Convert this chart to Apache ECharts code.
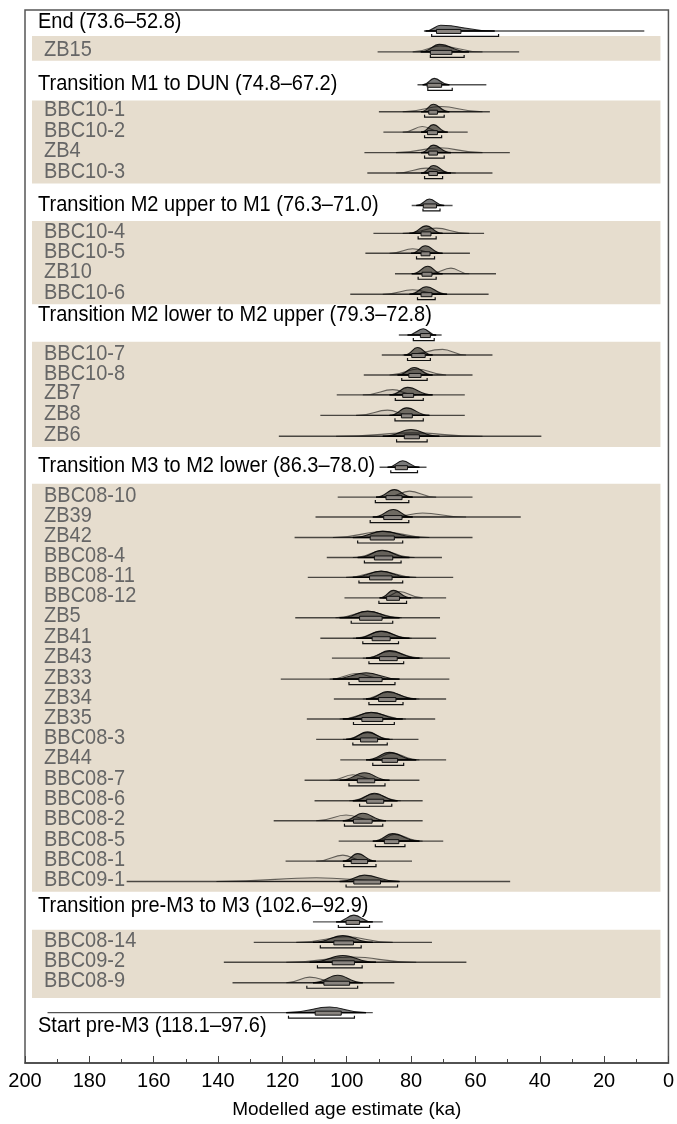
<!DOCTYPE html>
<html><head><meta charset="utf-8">
<script src="https://cdn.jsdelivr.net/npm/echarts@6/dist/echarts.min.js"></script>
<style>html,body{margin:0;padding:0;background:#fff}#c{width:677px;height:1124px}</style>
</head><body><div id="c"></div>
<script>
// ================= DATA (ka) =================
const labels = ['End (73.6–52.8)','ZB15','Transition M1 to DUN (74.8–67.2)','BBC10-1','BBC10-2','ZB4','BBC10-3',
 'Transition M2 upper to M1 (76.3–71.0)','BBC10-4','BBC10-5','ZB10','BBC10-6',
 'Transition M2 lower to M2 upper (79.3–72.8)','BBC10-7','BBC10-8','ZB7','ZB8','ZB6',
 'Transition M3 to M2 lower (86.3–78.0)','BBC08-10','ZB39','ZB42','BBC08-4','BBC08-11','BBC08-12','ZB5','ZB41','ZB43',
 'ZB33','ZB34','ZB35','BBC08-3','ZB44','BBC08-7','BBC08-6','BBC08-2','BBC08-5','BBC08-1','BBC09-1',
 'Transition pre-M3 to M3 (102.6–92.9)','BBC08-14','BBC09-2','BBC08-9','Start pre-M3 (118.1–97.6)'];
const kinds = ['h','s','h','s','s','s','s','h','s','s','s','s','h','s','s','s','s','s','h',
 's','s','s','s','s','s','s','s','s','s','s','s','s','s','s','s','s','s','s','s','h','s','s','s','h'];
const lineOld = [76.0,90.4,78.0,90.0,88.6,94.5,93.6,79.8,91.7,94.2,85.0,98.9,83.8,89.1,94.7,103.1,108.2,121.1,89.8,102.8,109.7,116.2,106.2,112.1,100.7,116.0,108.2,104.6,120.5,104.0,112.4,109.5,102.0,113.1,110.0,122.7,102.5,119.0,168.4,110.5,128.9,138.2,135.5,193.0];
const lineYoung = [7.5,46.4,56.6,55.5,62.4,49.3,54.7,67.1,57.3,61.7,53.6,55.9,70.5,54.7,60.9,63.3,63.3,39.5,75.2,60.9,45.9,60.9,70.4,66.9,69.1,71.0,72.2,67.9,68.1,69.1,72.5,77.7,69.1,77.4,76.4,76.4,70.0,79.7,49.2,88.8,73.5,62.8,85.2,91.9];
// posterior (modelled) distribution: old foot, peak, young foot, relative height
const postOld = [75.5,77.0,76.4,76.9,76.9,76.9,76.9,78.4,80.5,80.0,79.8,80.5,81.1,82.1,84.2,86.7,86.7,88.8,87.3,90.9,91.9,98.1,96.6,98.1,89.8,102.2,97.1,94.0,104.3,94.0,101.2,100.2,94.0,102.2,98.1,101.2,91.9,101.2,102.2,103.3,110.5,111.5,110.5,118.8];
const postPeak = [70.8,71.2,72.8,73.1,73.1,73.1,73.1,74.3,75.3,75.6,74.8,75.3,76.2,78.0,79.0,81.1,81.4,80.0,82.6,85.2,85.5,88.8,89.0,89.3,85.5,93.5,89.3,86.7,94.0,87.3,92.4,93.5,86.7,94.5,91.4,95.0,85.7,96.6,94.5,97.8,101.2,101.2,102.8,105.3];
const postYoung = [54.0,62.0,68.1,68.1,68.6,67.6,67.6,69.7,70.2,70.2,70.2,68.8,72.2,73.3,73.3,73.3,74.3,71.2,77.4,79.5,79.5,77.4,80.5,80.5,80.0,83.6,80.5,77.4,83.6,78.4,82.6,86.7,78.4,86.7,84.2,87.8,77.4,90.9,83.6,91.9,91.9,90.9,95.0,94.0];
const postHeight = [0.75,1,0.85,1,1,1,1,0.85,1,1,1,1,0.85,1,1,1,1,0.9,0.85,1,1,0.85,0.95,0.85,1,0.9,0.95,1,0.85,1,0.9,1,1,1,1,1,1,1,0.85,0.9,0.9,0.9,1,0.75];
// prior (unmodelled) distribution for samples
const priorOld = [null,79.5,null,82.6,82.6,84.7,84.7,null,82.6,86.7,74.3,88.8,null,82.6,86.7,95.0,97.1,103.3,null,87.8,86.7,104.3,98.1,100.2,88.8,103.5,98.1,95.0,105.3,95.0,102.2,101.2,93.0,105.3,99.2,109.5,90.9,109.5,140.5,null,115.7,118.8,118.8,null];
const priorPeak = [null,71.0,null,70.7,76.5,71.2,75.3,null,72.2,79.5,67.6,79.5,null,70.2,78.0,85.7,87.3,79.5,null,80.5,76.4,88.8,89.0,89.3,83.6,93.5,89.3,86.7,97.1,87.3,92.4,93.5,86.0,98.1,91.4,100.2,85.2,101.2,109.5,null,100.2,98.1,111.5,null];
const priorYoung = [null,57.8,null,57.8,70.2,57.8,66.1,null,61.9,72.2,61.9,70.2,null,62.9,69.1,78.4,79.5,57.8,null,72.2,62.9,74.3,78.9,78.4,76.4,82.9,79.8,76.4,87.8,77.4,81.6,85.7,77.4,89.8,83.2,90.9,76.4,94.0,83.6,null,85.7,78.4,102.2,null];
const priorHeight = [null,0.8,null,0.7,0.75,0.65,0.65,null,0.7,0.6,0.75,0.6,null,0.75,0.8,0.7,0.7,0.45,null,0.8,0.55,0.8,0.9,0.8,0.85,0.85,0.9,0.9,0.75,0.9,0.85,0.9,0.9,0.75,0.9,0.75,0.9,0.8,0.5,null,0.75,0.7,0.75,null];
// 68.2% range (box) and 95.4% range (bracket)
const range68Old = [72.1,74.0,75.0,74.5,74.9,74.5,74.5,76.2,76.9,76.9,76.6,76.9,77.1,79.8,80.7,82.6,83.0,82.1,84.9,87.8,88.5,92.7,91.4,92.9,87.6,96.0,92.1,89.8,96.2,90.1,95.3,95.7,89.0,96.7,93.8,97.9,88.3,98.6,97.8,100.2,104.0,104.5,107.1,109.8];
const range68Young = [64.5,67.3,70.5,71.8,71.8,71.8,71.8,72.1,73.8,74.1,73.5,73.5,74.0,75.6,76.9,79.2,79.6,77.4,81.1,82.8,82.8,85.2,85.7,85.9,83.6,89.0,86.5,84.3,89.0,84.7,88.8,90.4,84.2,91.3,88.5,92.1,83.8,93.5,89.5,96.0,97.9,97.6,99.1,101.7];
const range95Old = [73.6,74.0,74.8,75.8,75.8,75.8,75.8,76.3,77.8,78.3,77.8,78.0,79.3,81.1,82.9,84.9,85.0,84.5,86.3,91.1,92.7,96.6,94.5,96.2,90.0,98.6,95.0,93.1,99.3,93.1,97.9,98.1,91.9,99.3,96.0,100.7,91.1,100.9,100.2,102.6,108.2,109.1,112.4,118.1];
const range95Young = [52.8,63.5,67.2,69.7,70.5,69.7,70.2,71.0,72.2,72.7,72.2,72.5,72.8,74.0,75.0,76.2,76.2,75.0,78.0,80.7,80.7,82.6,83.1,82.6,81.4,85.7,83.9,82.3,85.0,82.5,85.2,87.4,82.3,88.1,86.0,88.8,81.9,90.9,84.2,92.9,95.5,95.2,96.6,97.6];
const xTickValues = [200,180,160,140,120,100,80,60,40,20,0];

// ================= LAYOUT (px from plot top) =================
const ROW_Y = [21,42,75,102,122.5,143,163.5,196,224,244,264.5,285,326,346,366,386,406.5,427.5,458.5,488.5,508.5,529,549,569,589.5,609.5,630,650,671,691,711,731.5,752,772.5,793,813,833.5,853.5,874,914.5,935,955,975.5,1005.5];
const LABEL_DY = {0:-9,2:-1,7:-1,12:-20,18:-1.5,39:-15.5,43:13.5};
const BANDS = [[26,51],[90.7,174],[211.7,295],[332.7,438.3],[475,884.3],[922.3,990.7]];
const HUMP_PX = 7.5;
const FONT = '"Liberation Sans", Arial, Helvetica, sans-serif';

function hump(xa, xp, xb, y, h) {
  const a = xp - xa, b = xb - xp;
  return 'M' + xa + ',' + y +
    ' C' + (xa + 0.55 * a) + ',' + y + ' ' + (xp - 0.4 * a) + ',' + (y - h) + ' ' + xp + ',' + (y - h) +
    ' C' + (xp + 0.4 * b) + ',' + (y - h) + ' ' + (xb - 0.55 * b) + ',' + y + ' ' + xb + ',' + y + ' Z';
}

function renderBand(params, api) {
  const cs = params.coordSys;
  const y1 = api.coord([0, api.value(1)])[1];
  const y2 = api.coord([0, api.value(2)])[1];
  return {type: 'rect', shape: {x: cs.x + 7, y: y1, width: cs.width - 15, height: y2 - y1},
    style: {fill: '#e6ddce'}};
}

function renderRow(params, api) {
  const i = api.value(2);
  const cs = params.coordSys;
  const y = api.coord([0, ROW_Y[i]])[1];
  const X = v => api.coord([v, 0])[0];
  const ch = [];
  const head = kinds[i] === 'h';
  ch.push({type: 'text', x: cs.x + (head ? 13 : 19), y: y + (head ? LABEL_DY[i] : -1.5), scaleY: 1.1,
    style: {text: labels[i], fill: head ? '#000' : '#666', fontSize: 20, fontFamily: FONT,
      align: 'left', verticalAlign: 'middle'}});
  ch.push({type: 'line', shape: {x1: X(lineOld[i]), y1: y, x2: X(lineYoung[i]), y2: y},
    style: {stroke: 'rgba(0,0,0,0.68)', lineWidth: 1.4}});
  if (priorPeak[i] != null) {
    ch.push({type: 'path', shape: {pathData: hump(X(priorOld[i]), X(priorPeak[i]), X(priorYoung[i]), y, HUMP_PX * priorHeight[i])},
      style: {fill: 'rgba(0,0,0,0.08)', stroke: 'rgba(0,0,0,0.55)', lineWidth: 1.1}});
  }
  ch.push({type: 'line', shape: {x1: X(postOld[i]), y1: y, x2: X(postYoung[i]), y2: y},
    style: {stroke: 'rgba(0,0,0,0.85)', lineWidth: 1.4}});
  ch.push({type: 'path', shape: {pathData: hump(X(postOld[i]), X(postPeak[i]), X(postYoung[i]), y, HUMP_PX * postHeight[i])},
    style: {fill: 'rgba(0,0,0,0.52)', stroke: 'rgba(0,0,0,0.85)', lineWidth: 1.1}});
  const b1 = X(range68Old[i]), b2 = X(range68Young[i]);
  ch.push({type: 'rect', shape: {x: b1, y: y - 1.5, width: b2 - b1, height: 4},
    style: {fill: '#8a8580', stroke: '#111', lineWidth: 1}});
  const r1 = X(range95Old[i]), r2 = X(range95Young[i]);
  ch.push({type: 'polyline', shape: {points: [[r1, y + 3], [r1, y + 5.5], [r2, y + 5.5], [r2, y + 3]]},
    style: {stroke: '#111', lineWidth: 1.2, fill: null}});
  return {type: 'group', children: ch};
}

const chart = echarts.init(document.getElementById('c'), null, {renderer: 'canvas'});
chart.setOption({
  animation: false,
  backgroundColor: '#fff',
  grid: {left: 25, right: 6, top: 10, bottom: 58, show: true, borderColor: '#555', borderWidth: 1.5, backgroundColor: 'transparent'},
  xAxis: {
    type: 'value', min: 0, max: 200, interval: 20, inverse: true, position: 'bottom',
    axisLine: {show: true, onZero: false, lineStyle: {color: '#444', width: 1.5}},
    axisTick: {show: true, inside: true, length: 7, lineStyle: {color: '#444'}},
    minorTick: {show: true, splitNumber: 2, length: 4, lineStyle: {color: '#444'}},
    splitLine: {show: false},
    axisLabel: {fontSize: 20, color: '#000', fontFamily: FONT, margin: 8, showMinLabel: true, showMaxLabel: true,
      formatter: v => xTickValues.indexOf(v) >= 0 ? String(v) : ''},
    name: 'Modelled age estimate (ka)', nameLocation: 'middle', nameGap: 37,
    nameTextStyle: {fontSize: 19, color: '#000', fontFamily: FONT}
  },
  yAxis: {type: 'value', min: 0, max: 1056, inverse: true, show: false},
  series: [
    {type: 'custom', renderItem: renderBand, z: 1, silent: true,
      data: BANDS.map(b => [0, b[0], b[1]]), encode: {x: 0, y: 1}},
    {type: 'custom', renderItem: renderRow, z: 2, silent: true, clip: false,
      data: labels.map((_, i) => [lineOld[i], ROW_Y[i], i]), encode: {x: 0, y: 1}}
  ]
});
</script></body></html>
